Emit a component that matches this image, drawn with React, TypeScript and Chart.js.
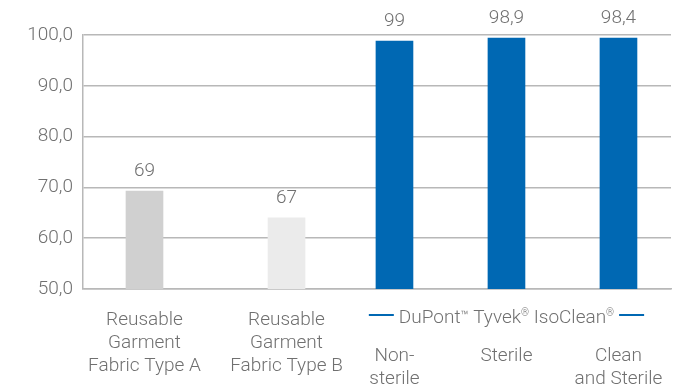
import React, { useEffect, useRef } from "react";
import { Chart, registerables } from "chart.js";

Chart.register(...registerables);

// ---- data ----
const categories: string[][] = [
  ["Reusable", "Garment", "Fabric Type A"],
  ["Reusable", "Garment", "Fabric Type B"],
  ["Non-", "sterile"],
  ["Sterile"],
  ["Clean", "and Sterile"],
];
const barValues = [69.3, 64.0, 98.8, 99.4, 99.4];
const valueLabels = ["69", "67", "99", "98,9", "98,4"];
const barColors = ["#d0d0d0", "#ebebeb", "#0068b3", "#0068b3", "#0068b3"];
const groupLabelParts: [string, string][] = [
  ["DuPont", "main"],
  ["™", "tm"],
  [" Tyvek", "main"],
  ["®", "reg"],
  [" IsoClean", "main"],
  ["®", "reg"],
];
const groupMembers = [2, 3, 4];
const yTicks = [50, 60, 70, 80, 90, 100];

// ---- layout (slot centres along the category axis) ----
const slotPositions = [0.549, 1.817, 2.781, 3.781, 4.781];
const slotMax = 5.25;

const FONT = "Roboto, 'Open Sans', sans-serif";
const TEXT = "#707070";
const GRID = "#b8b8b8";
const BLUE = "#0068b3";

export default function App() {
  const ref = useRef<HTMLCanvasElement>(null);

  useEffect(() => {
    document.body.style.margin = "0";
    const fonts: Record<string, string> = {
      main: `300 19px ${FONT}`,
      tm: `300 13px ${FONT}`,
      reg: `300 10px ${FONT}`,
    };
    const raise: Record<string, number> = { main: 0, tm: 3, reg: 7 };
    const labelsPlugin = {
      id: "customLabels",
      afterDatasetsDraw(chart: any) {
        const ctx = chart.ctx;
        const meta = chart.getDatasetMeta(0);
        const xs = chart.scales.x;
        ctx.save();
        ctx.fillStyle = TEXT;
        ctx.textAlign = "center";
        ctx.textBaseline = "middle";
        ctx.font = `300 19px ${FONT}`;
        meta.data.forEach((el: any, i: number) => {
          ctx.fillText(valueLabels[i], el.x, el.y - 20);
        });
        // category labels
        ctx.textBaseline = "alphabetic";
        categories.forEach((lines, i) => {
          const cx = xs.getPixelForValue(slotPositions[i]);
          const inGroup = groupMembers.includes(i);
          const base = inGroup ? 361 : 325;
          const lh = inGroup ? 22.5 : 23;
          lines.forEach((ln, j) => {
            ctx.fillText(ln, cx, base + j * lh);
          });
        });
        // group label
        const gx0 = xs.getPixelForValue(slotPositions[groupMembers[0]]);
        const gx1 = xs.getPixelForValue(slotPositions[groupMembers[groupMembers.length - 1]]);
        const gc = (gx0 + gx1) / 2;
        let total = 0;
        groupLabelParts.forEach(([t, k]) => {
          ctx.font = fonts[k];
          total += ctx.measureText(t).width;
        });
        let x = gc - total / 2;
        const baseY = 323;
        ctx.textAlign = "left";
        groupLabelParts.forEach(([t, k]) => {
          ctx.font = fonts[k];
          ctx.fillText(t, x, baseY - raise[k]);
          x += ctx.measureText(t).width;
        });
        ctx.strokeStyle = BLUE;
        ctx.lineWidth = 2;
        ctx.beginPath();
        const lineY = 315;
        const startX = gc - total / 2 - 5;
        const endX = gc + total / 2 + 5;
        ctx.moveTo(startX - 25, lineY);
        ctx.lineTo(startX, lineY);
        ctx.moveTo(endX, lineY);
        ctx.lineTo(endX + 25, lineY);
        ctx.stroke();
        ctx.restore();
      },
    };

    const chart = new Chart(ref.current!, {
      type: "bar",
      data: {
        datasets: [
          {
            data: barValues.map((v, i) => ({ x: slotPositions[i], y: v })),
            backgroundColor: barColors,
            barThickness: 37,
            borderWidth: 0,
          },
        ],
      },
      options: {
        animation: false,
        responsive: true,
        maintainAspectRatio: false,
        layout: { padding: { top: 35, right: 2, left: 0, bottom: 0 } },
        plugins: { legend: { display: false }, tooltip: { enabled: false } },
        scales: {
          x: {
            type: "linear",
            offset: false,
            min: 0,
            max: slotMax,
            ticks: { display: false },
            grid: { display: false, drawTicks: false, offset: false },
            border: { display: true, color: GRID, width: 1.5 },
            afterFit: (s: any) => {
              s.height = 99;
            },
          },
          y: {
            min: 50,
            max: 100,
            afterBuildTicks: (s: any) => {
              s.ticks = yTicks.map((v) => ({ value: v }));
            },
            ticks: {
              color: TEXT,
              padding: 10,
              font: { family: FONT, size: 19, weight: "300" as any },
              callback: (v: any) => Number(v).toFixed(1).replace(".", ","),
            },
            grid: { color: GRID, lineWidth: 1.5, drawTicks: false },
            border: { display: true, color: GRID, width: 1.5 },
            afterFit: (s: any) => {
              s.width = 83;
            },
          },
        },
      },
      plugins: [labelsPlugin],
    });
    return () => chart.destroy();
  }, []);

  return (
    <div style={{ width: 673, height: 388, position: "relative" }}>
      <canvas ref={ref} />
    </div>
  );
}
